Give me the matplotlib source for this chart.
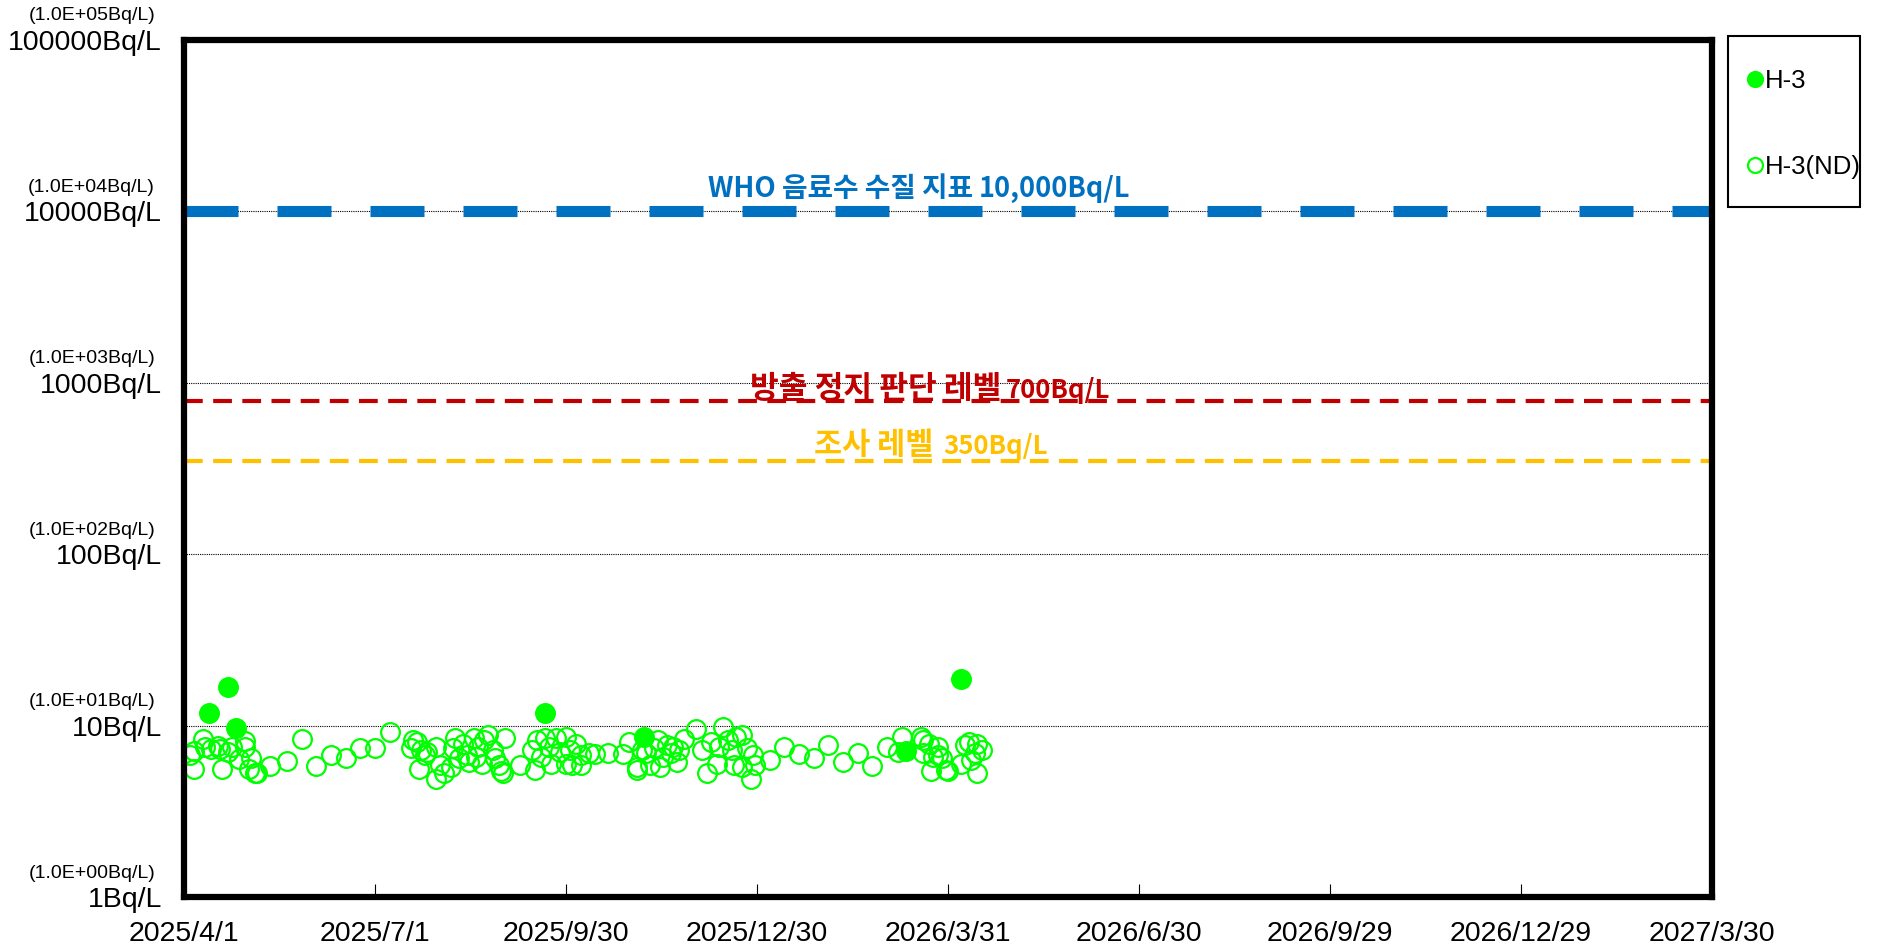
import matplotlib
matplotlib.use("Agg")
import matplotlib.pyplot as plt
import matplotlib.transforms as mtransforms
from matplotlib.patches import Rectangle
from matplotlib.ticker import NullLocator
import pandas as pd

plt.rcParams['font.family'] = ['Liberation Sans', 'Noto Sans CJK KR', 'DejaVu Sans']

# H-3 detected (Bq/L)
det_dates = ["2025-04-13", "2025-04-22", "2025-04-26", "2025-09-20", "2025-11-06",
             "2026-03-11", "2026-04-06"]
det_values = [11.9, 16.9, 9.7, 11.9, 8.6, 7.1, 18.8]

# H-3 not detected, detection limit (Bq/L)
nd_dates = [
    "2025-04-04", "2025-04-06", "2025-04-06", "2025-04-10", "2025-04-11", "2025-04-14",
    "2025-04-17", "2025-04-18", "2025-04-19", "2025-04-22", "2025-04-24", "2025-04-27",
    "2025-04-30", "2025-04-30", "2025-05-03", "2025-05-02", "2025-05-05", "2025-05-06",
    "2025-05-12", "2025-05-20", "2025-05-27", "2025-06-03", "2025-06-10", "2025-06-17",
    "2025-06-24", "2025-07-01", "2025-07-08",
    "2025-07-18", "2025-07-19", "2025-07-21", "2025-07-22", "2025-07-23", "2025-07-25",
    "2025-07-26", "2025-07-30", "2025-07-30", "2025-08-01", "2025-08-03", "2025-08-06",
    "2025-08-07", "2025-08-08", "2025-08-10", "2025-08-12", "2025-08-14", "2025-08-15",
    "2025-08-17", "2025-08-18", "2025-08-19", "2025-08-21", "2025-08-22", "2025-08-24",
    "2025-08-26", "2025-08-27", "2025-08-29", "2025-08-30", "2025-09-01", "2025-08-31",
    "2025-09-08", "2025-09-14", "2025-09-15", "2025-09-16", "2025-09-18", "2025-09-20",
    "2025-09-22", "2025-09-23", "2025-09-25", "2025-09-27", "2025-09-30", "2025-09-30",
    "2025-10-02", "2025-10-03", "2025-10-05", "2025-10-07", "2025-10-07", "2025-10-11",
    "2025-10-14", "2025-10-20", "2025-10-27", "2025-10-30",
    "2025-11-03", "2025-11-03", "2025-11-05", "2025-11-07", "2025-11-09", "2025-11-11",
    "2025-11-13", "2025-11-14", "2025-11-15", "2025-11-17", "2025-11-19", "2025-11-20",
    "2025-11-22", "2025-11-23", "2025-11-25", "2025-12-01", "2025-12-04", "2025-12-06",
    "2025-12-08", "2025-12-11", "2025-12-12", "2025-12-14", "2025-12-16", "2025-12-18",
    "2025-12-19", "2025-12-20", "2025-12-23", "2025-12-23", "2025-12-25", "2025-12-27",
    "2025-12-28", "2025-12-29",
    "2026-01-05", "2026-01-12", "2026-01-19", "2026-01-26", "2026-02-02", "2026-02-09",
    "2026-02-16", "2026-02-23", "2026-03-02", "2026-03-07", "2026-03-09",
    "2026-03-18", "2026-03-19", "2026-03-19", "2026-03-22", "2026-03-23", "2026-03-24",
    "2026-03-26", "2026-03-26", "2026-03-28", "2026-03-30", "2026-03-31",
    "2026-04-06", "2026-04-08", "2026-04-10", "2026-04-11", "2026-04-13", "2026-04-14",
    "2026-04-14", "2026-04-16",
]
nd_values = [
    6.7, 7.1, 5.6, 8.4, 7.5, 7.3,
    7.6, 7.3, 5.6, 7.0, 7.5, 6.4,
    8.1, 7.5, 6.5, 5.6, 5.3, 5.3,
    5.8, 6.2, 8.4, 5.8, 6.7, 6.5,
    7.4, 7.4, 9.2,
    7.4, 8.2, 8.0, 5.6, 7.2, 6.7,
    7.0, 4.9, 7.5, 5.9, 5.3, 5.7,
    7.4, 8.5, 6.5, 7.8, 6.7, 6.1,
    8.5, 6.6, 7.5, 6.0, 8.2, 8.8,
    7.2, 6.5, 5.9, 5.4, 8.5, 5.3,
    5.9, 7.2, 5.5, 8.2, 6.6, 8.5,
    7.5, 6.0, 8.5, 7.0, 8.6, 6.0,
    7.2, 5.9, 7.8, 6.7, 5.9, 6.9,
    6.8, 6.9, 6.8, 8.0,
    5.7, 5.5, 7.2, 6.9, 5.9, 7.4,
    8.2, 5.7, 6.6, 7.7, 6.9, 7.5,
    6.1, 7.2, 8.4, 9.5, 7.2, 5.3,
    8.0, 6.0, 7.5, 9.8, 8.2, 7.2,
    5.9, 8.6, 8.8, 5.7, 7.4, 4.9,
    6.7, 5.9,
    6.3, 7.5, 6.8, 6.5, 7.7, 6.1,
    6.9, 5.8, 7.5, 7.0, 8.6,
    8.6, 8.2, 6.9, 7.8, 5.4, 6.6,
    6.7, 7.5, 6.5, 5.5, 5.4,
    6.0, 7.7, 8.0, 6.3, 6.9, 7.8,
    5.3, 7.2,
]

who_level = 10000
stop_level = 780
survey_level = 350

y_ticks = [1, 10, 100, 1000, 10000, 100000]
y_labels = ["1Bq/L", "10Bq/L", "100Bq/L", "1000Bq/L", "10000Bq/L", "100000Bq/L"]
y_sublabels = ["(1.0E+00Bq/L)", "(1.0E+01Bq/L)", "(1.0E+02Bq/L)",
               "(1.0E+03Bq/L)", "(1.0E+04Bq/L)", "(1.0E+05Bq/L)"]

x_start = pd.Timestamp("2025-04-01")
x_end = pd.Timestamp("2027-03-30")
x_ticks = pd.date_range(x_start, periods=9, freq="91D")

green = "#00FF00"

fig = plt.figure(figsize=(18.84, 9.47), dpi=100)
ax = fig.add_axes([184 / 1884, 1 - 897 / 947, 1528 / 1884, 857 / 947])

ax.set_yscale("log")
ax.set_ylim(1, 100000)
ax.set_xlim(x_start, x_end)

ax.grid(axis="y", which="major", color="black", lw=0.8, linestyle=(0, (1, 1)))
ax.set_axisbelow(True)

ax.axhline(who_level, color="#0070C0", lw=8, dashes=(4.86, 3.51))
ax.axhline(stop_level, color="#C00000", lw=3, dashes=(4.5, 2.5))
ax.axhline(survey_level, color="#FFC000", lw=3, dashes=(4.5, 2.5))

nd, = ax.plot(pd.to_datetime(nd_dates), nd_values, "o", ls="none", ms=13.5,
              mfc="none", mec=green, mew=1.6, label="H-3(ND)")
det, = ax.plot(pd.to_datetime(det_dates), det_values, "o", ls="none", ms=13.5,
               mfc=green, mec=green, mew=1.6, label="H-3")

# level labels: korean part ends at xk, number part starts at xn
tr = mtransforms.blended_transform_factory(ax.transAxes, ax.transData)
kfont = ['Noto Sans CJK KR', 'DejaVu Sans']
labels = [
    ("WHO 음료수 수질 지표", "10,000Bq/L", 0.5164, 0.5204, 12100, 20, 19.5, "#0070C0"),
    ("방출 정지 판단 레벨", "700Bq/L", 0.5347, 0.5380, 815, 22.5, 18.5, "#C00000"),
    ("조사 레벨", "350Bq/L", 0.4903, 0.4967, 384, 22, 18.5, "#FFC000"),
]
for kor, num, xk, xn, yb, fk, fn, col in labels:
    ax.text(xk, yb, kor, transform=tr, ha="right", va="baseline", color=col,
            fontsize=fk, fontweight="bold", family=kfont)
    ax.text(xn, yb, num, transform=tr, ha="left", va="baseline", color=col,
            fontsize=fn, fontweight="bold", family=kfont)

ax.set_yticks(y_ticks)
ax.set_yticklabels(y_labels, fontsize=20.5)
ax.yaxis.set_minor_locator(NullLocator())
ax.tick_params(axis="y", length=0, pad=16)
for yt, s in zip(y_ticks, y_sublabels):
    ax.text(-29 / 1528, yt, s, transform=mtransforms.offset_copy(
        tr, fig=fig, y=24 * 0.72, units="points"),
        ha="right", va="center", fontsize=14)

ax.set_xticks(x_ticks)
ax.set_xticklabels([f"{d.year}/{d.month}/{d.day}" for d in x_ticks], fontsize=20.5)
ax.tick_params(axis="x", direction="in", length=9.5, width=0.8, pad=17)

for sp in ax.spines.values():
    sp.set_linewidth(4.5)

# legend box outside the axes
fig.patches.append(Rectangle((1728 / 1884, 1 - 207 / 947), 132 / 1884, 171 / 947,
                             transform=fig.transFigure, fill=False,
                             edgecolor="black", lw=1.5))
fig.legend(handles=[det, nd], loc="upper left",
           bbox_to_anchor=(1747 / 1884, 1 - 69 / 947), borderaxespad=0,
           fontsize=18.5, markerscale=0.8, handlelength=0.6, handletextpad=0.1,
           labelspacing=2.4, borderpad=0, frameon=False)

fig.savefig("out.png", dpi=100)
